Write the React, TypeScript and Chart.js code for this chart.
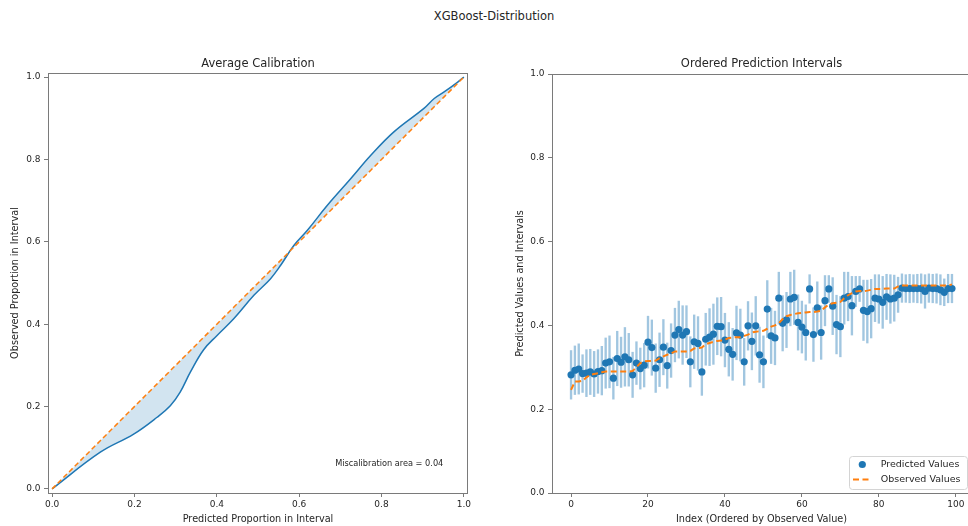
import React, { useEffect, useRef } from "react";
import { Chart, registerables } from "chart.js";

Chart.register(...registerables);

// ---------------- data ----------------
const calibPredicted = [0, 0.117, 0.198, 0.255, 0.287, 0.311, 0.336, 0.368, 0.4, 0.441, 0.49, 0.53, 0.555, 0.587, 0.62, 0.668, 0.725, 0.774, 0.83, 0.903, 0.928, 0.952, 0.985, 1.0];
const calibObserved = [0, 0.089, 0.133, 0.174, 0.202, 0.235, 0.284, 0.338, 0.372, 0.413, 0.47, 0.51, 0.543, 0.591, 0.628, 0.688, 0.753, 0.81, 0.867, 0.924, 0.948, 0.964, 0.988, 1.0];
const calibTicks = [0, 0.2, 0.4, 0.6, 0.8, 1.0];
const miscalibrationLabel = "Miscalibration area = 0.04";

const predictedValues = [
  0.282, 0.293, 0.296, 0.285, 0.286, 0.289, 0.284, 0.29, 0.292, 0.31,
  0.313, 0.274, 0.321, 0.312, 0.325, 0.318, 0.282, 0.31, 0.297, 0.305,
  0.36, 0.347, 0.298, 0.318, 0.348, 0.304, 0.34, 0.377, 0.39, 0.377,
  0.385, 0.313, 0.361, 0.357, 0.289, 0.367, 0.372, 0.379, 0.398, 0.397,
  0.365, 0.343, 0.331, 0.382, 0.377, 0.313, 0.399, 0.362, 0.399, 0.33,
  0.313, 0.439, 0.375, 0.37, 0.465, 0.405, 0.413, 0.463, 0.467, 0.407,
  0.396, 0.383, 0.487, 0.378, 0.442, 0.383, 0.459, 0.487, 0.446, 0.402,
  0.397, 0.465, 0.469, 0.447, 0.481, 0.487, 0.436, 0.433, 0.44, 0.465,
  0.463, 0.455, 0.468, 0.463, 0.465, 0.473, 0.489, 0.488, 0.488, 0.488,
  0.488, 0.488, 0.481, 0.489, 0.488, 0.488, 0.485, 0.479, 0.488, 0.488,
];
const intervalHalfWidth = [
  0.058, 0.058, 0.06, 0.045, 0.056, 0.054, 0.054, 0.052, 0.058, 0.06,
  0.062, 0.05, 0.065, 0.06, 0.07, 0.063, 0.054, 0.051, 0.049, 0.052,
  0.062, 0.066, 0.058, 0.064, 0.066, 0.054, 0.064, 0.064, 0.068, 0.07,
  0.062, 0.06, 0.064, 0.064, 0.056, 0.062, 0.068, 0.072, 0.068, 0.07,
  0.064, 0.064, 0.062, 0.064, 0.062, 0.056, 0.058, 0.068, 0.07, 0.066,
  0.062, 0.068, 0.066, 0.064, 0.062, 0.066, 0.066, 0.064, 0.065, 0.066,
  0.062, 0.066, 0.034, 0.064, 0.062, 0.064, 0.06, 0.032, 0.068, 0.07,
  0.072, 0.062, 0.058, 0.07, 0.036, 0.03, 0.072, 0.075, 0.07, 0.056,
  0.058, 0.062, 0.054, 0.058, 0.055, 0.042, 0.034, 0.033, 0.034, 0.033,
  0.034, 0.035, 0.04, 0.034, 0.034, 0.035, 0.036, 0.032, 0.034, 0.034,
];
const observedValues = [
  0.246, 0.266, 0.266, 0.268, 0.276, 0.282, 0.284, 0.286, 0.288, 0.29,
  0.29, 0.29, 0.29, 0.29, 0.29, 0.29, 0.291, 0.3, 0.31, 0.314,
  0.315, 0.315, 0.316, 0.322, 0.326, 0.33, 0.333, 0.338, 0.338, 0.338,
  0.338, 0.339, 0.345, 0.346, 0.347, 0.355, 0.358, 0.361, 0.363, 0.364,
  0.366, 0.37, 0.371, 0.372, 0.372, 0.375, 0.378, 0.383, 0.385, 0.386,
  0.387, 0.392, 0.397, 0.4, 0.405, 0.415, 0.422, 0.425, 0.427, 0.429,
  0.43, 0.431, 0.432, 0.432, 0.433, 0.435, 0.443, 0.45, 0.453, 0.454,
  0.456, 0.465, 0.472, 0.477, 0.481, 0.482, 0.482, 0.483, 0.485, 0.487,
  0.487, 0.487, 0.488, 0.488, 0.488, 0.493, 0.495, 0.495, 0.495, 0.495,
  0.495, 0.495, 0.495, 0.495, 0.495, 0.495, 0.495, 0.495, 0.495, 0.498,
];
const intervalIndex = predictedValues.map((_, i) => i);
const intervalXTicks = [0, 20, 40, 60, 80, 100];
const intervalYTicks = [0, 0.2, 0.4, 0.6, 0.8, 1.0];

// ---------------- style ----------------
const FONT = "'DejaVu Sans', 'Liberation Sans', sans-serif";
const BLUE = "#1f77b4";
const ORANGE = "#ff7f0e";
const TEXT = "#262626";
const SPINE = "#7a7a7a";

function axisStyle(extra: any) {
  return {
    type: "linear",
    offset: false,
    grid: { display: true, offset: false, drawOnChartArea: false, drawTicks: true, tickLength: 4, tickColor: SPINE, tickWidth: 1 },
    border: { display: false },
    ...extra,
  };
}

function textPlugin(id: string, title: string, xTitle: string, yTitle: string, yTitleX: number, extra?: (chart: any) => void) {
  return {
    id,
    afterDraw(chart: any) {
      const ctx = chart.ctx;
      const a = chart.chartArea;
      ctx.save();
      // frame
      ctx.strokeStyle = SPINE;
      ctx.lineWidth = 1;
      ctx.setLineDash([]);
      ctx.strokeRect(Math.round(a.left) + 0.5, Math.round(a.top) + 0.5, Math.round(a.right - a.left) - 1, Math.round(a.bottom - a.top));
      ctx.fillStyle = TEXT;
      ctx.textAlign = "center";
      ctx.textBaseline = "middle";
      ctx.font = `11.5px ${FONT}`;
      ctx.fillText(title, (a.left + a.right) / 2, 64);
      ctx.font = `9.7px ${FONT}`;
      ctx.fillText(xTitle, (a.left + a.right) / 2, 519);
      ctx.save();
      ctx.translate(yTitleX, (a.top + a.bottom) / 2);
      ctx.rotate(-Math.PI / 2);
      ctx.fillText(yTitle, 0, 0);
      ctx.restore();
      if (extra) extra(chart);
      ctx.restore();
    },
  };
}

export default function App() {
  const leftRef = useRef<HTMLCanvasElement>(null);
  const rightRef = useRef<HTMLCanvasElement>(null);

  useEffect(() => {
    document.body.style.margin = "0";
    Chart.defaults.font.family = FONT;
    Chart.defaults.color = TEXT;

    const tickFont = { family: FONT, size: 9 };

    const left = new Chart(leftRef.current as HTMLCanvasElement, {
      type: "line",
      data: {
        datasets: [
          {
            label: "Observed",
            data: calibPredicted.map((p, i) => ({ x: p, y: calibObserved[i] })),
            borderColor: BLUE,
            borderWidth: 1.5,
            pointRadius: 0,
            tension: 0.4,
            fill: { target: 1 },
            backgroundColor: "rgba(31,119,180,0.2)",
            order: 1,
          },
          {
            label: "Ideal",
            data: calibPredicted.map((p) => ({ x: p, y: p })),
            borderColor: ORANGE,
            borderWidth: 1.5,
            borderDash: [5, 3],
            pointRadius: 0,
            fill: false,
            order: 0,
          },
        ],
      } as any,
      options: {
        animation: false,
        responsive: false,
        events: [],
        layout: { padding: { left: 0, right: 16, top: 73, bottom: 0 } },
        scales: {
          x: axisStyle({
            min: -0.01,
            max: 1.01,
            afterFit: (s: any) => { s.height = 33; },
            afterBuildTicks: (s: any) => { s.ticks = calibTicks.map((v) => ({ value: v })); },
            ticks: { font: tickFont, color: TEXT, padding: 2, maxRotation: 0, autoSkip: false, callback: (v: any) => Number(v).toFixed(1) },
          }),
          y: axisStyle({
            min: -0.01,
            max: 1.01,
            afterFit: (s: any) => { s.width = 48; },
            afterBuildTicks: (s: any) => { s.ticks = calibTicks.map((v) => ({ value: v })); },
            ticks: { font: tickFont, color: TEXT, padding: 3.5, autoSkip: false, callback: (v: any) => Number(v).toFixed(1) },
          }),
        } as any,
        plugins: { legend: { display: false }, tooltip: { enabled: false }, title: { display: false } },
      },
      plugins: [
        textPlugin("leftText", "Average Calibration", "Predicted Proportion in Interval", "Observed Proportion in Interval", 15, (chart: any) => {
          const ctx = chart.ctx;
          ctx.font = `8.2px ${FONT}`;
          ctx.textAlign = "right";
          ctx.textBaseline = "bottom";
          ctx.fillText(miscalibrationLabel, chart.scales.x.getPixelForValue(0.95), chart.scales.y.getPixelForValue(0.05));
        }),
      ],
    });

    const right = new Chart(rightRef.current as HTMLCanvasElement, {
      type: "scatter",
      data: {
        datasets: [
          {
            type: "line",
            label: "Observed Values",
            data: intervalIndex.map((i) => ({ x: i, y: observedValues[i] })),
            borderColor: ORANGE,
            borderWidth: 2,
            borderDash: [6, 3.5],
            pointRadius: 0,
            fill: false,
            tension: 0,
            order: 0,
          },
          {
            type: "scatter",
            label: "Predicted Values",
            data: intervalIndex.map((i) => ({ x: i, y: predictedValues[i] })),
            backgroundColor: BLUE,
            borderWidth: 0,
            pointRadius: 3.6,
            order: 1,
          },
          {
            type: "bar",
            label: "Intervals",
            data: intervalIndex.map((i) => ({ x: i, y: [predictedValues[i] - intervalHalfWidth[i], predictedValues[i] + intervalHalfWidth[i]] })),
            backgroundColor: "rgba(31,119,180,0.42)",
            borderWidth: 0,
            barThickness: 1.7,
            grouped: false,
            order: 2,
          },
        ],
      } as any,
      options: {
        animation: false,
        responsive: false,
        events: [],
        layout: { padding: { left: 0, right: 13, top: 74, bottom: 0 } },
        scales: {
          x: axisStyle({
            min: -4.95,
            max: 103.95,
            afterFit: (s: any) => { s.height = 33; },
            afterBuildTicks: (s: any) => { s.ticks = intervalXTicks.map((v) => ({ value: v })); },
            ticks: { font: tickFont, color: TEXT, padding: 2, maxRotation: 0, autoSkip: false, callback: (v: any) => String(v) },
          }),
          y: axisStyle({
            min: 0,
            max: 1,
            afterFit: (s: any) => { s.width = 68; },
            afterBuildTicks: (s: any) => { s.ticks = intervalYTicks.map((v) => ({ value: v })); },
            ticks: { font: tickFont, color: TEXT, padding: 3.5, autoSkip: false, callback: (v: any) => Number(v).toFixed(1) },
          }),
        } as any,
        plugins: { legend: { display: false }, tooltip: { enabled: false }, title: { display: false } },
      },
      plugins: [
        textPlugin("rightText", "Ordered Prediction Intervals", "Index (Ordered by Observed Value)", "Predicted Values and Intervals", 36, (chart: any) => {
          const ctx = chart.ctx;
          const ds = chart.data.datasets;
          // legend box
          const bx = 365.5, by = 456.5, bw = 118, bh = 33, r = 3;
          ctx.beginPath();
          ctx.moveTo(bx + r, by);
          ctx.lineTo(bx + bw - r, by);
          ctx.quadraticCurveTo(bx + bw, by, bx + bw, by + r);
          ctx.lineTo(bx + bw, by + bh - r);
          ctx.quadraticCurveTo(bx + bw, by + bh, bx + bw - r, by + bh);
          ctx.lineTo(bx + r, by + bh);
          ctx.quadraticCurveTo(bx, by + bh, bx, by + bh - r);
          ctx.lineTo(bx, by + r);
          ctx.quadraticCurveTo(bx, by, bx + r, by);
          ctx.closePath();
          ctx.fillStyle = "rgba(255,255,255,0.8)";
          ctx.fill();
          ctx.strokeStyle = "#d4d4d4";
          ctx.lineWidth = 1;
          ctx.stroke();
          // marker
          ctx.beginPath();
          ctx.arc(378.3, 464.5, 3.6, 0, Math.PI * 2);
          ctx.fillStyle = BLUE;
          ctx.fill();
          // dash
          ctx.beginPath();
          ctx.setLineDash([6, 3.5]);
          ctx.strokeStyle = ORANGE;
          ctx.lineWidth = 2;
          ctx.moveTo(369, 479.5);
          ctx.lineTo(388, 479.5);
          ctx.stroke();
          ctx.setLineDash([]);
          ctx.fillStyle = TEXT;
          ctx.font = `9.5px ${FONT}`;
          ctx.textAlign = "left";
          ctx.textBaseline = "middle";
          ctx.fillText(ds[1].label, 396.7, 464.5);
          ctx.fillText(ds[0].label, 396.7, 479.5);
        }),
      ],
    });

    return () => {
      left.destroy();
      right.destroy();
    };
  }, []);

  return (
    <div style={{ position: "fixed", left: 0, top: 0, width: 968, height: 526, overflow: "hidden", background: "#fff" }}>
      <div
        style={{
          position: "absolute",
          left: 494,
          top: 9,
          transform: "translateX(-50%)",
          font: `11.5px ${FONT}`,
          lineHeight: "14px",
          color: TEXT,
          whiteSpace: "nowrap",
        }}
      >
        XGBoost-Distribution
      </div>
      <canvas ref={leftRef} width={484} height={526} style={{ position: "absolute", left: 0, top: 0, width: 484, height: 526 }} />
      <canvas ref={rightRef} width={500} height={526} style={{ position: "absolute", left: 484, top: 0, width: 500, height: 526 }} />
    </div>
  );
}
